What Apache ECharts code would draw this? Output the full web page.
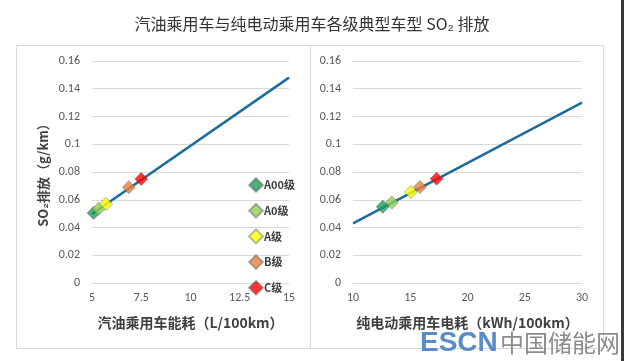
<!DOCTYPE html>
<html>
<head>
<meta charset="utf-8">
<script src="https://cdn.jsdelivr.net/npm/echarts@6/dist/echarts.min.js"></script>
<style>html,body{margin:0;padding:0;background:#fff;}#c{width:624px;height:361px;}</style>
</head>
<body>
<div id="c"></div>
<script>
// ---- data ----
var classes = ['A00级', 'A0级', 'A级', 'B级', 'C级'];
var classColors = ['#1ba05a', '#92cf55', '#ffff00', '#e3813e', '#ff0000'];
var gasFuel = [5.08, 5.34, 5.71, 6.87, 7.5];
var gasSO2 = [0.0505, 0.0535, 0.057, 0.069, 0.075];
var evPower = [12.6, 13.4, 15.05, 15.85, 17.3];
var evSO2 = [0.055, 0.058, 0.0656, 0.0692, 0.0752];
var gasFitX = [5, 15];
var gasFitY = [0.0497, 0.148];
var evFitX = [10, 30];
var evFitY = [0.043, 0.13];
var yTicks = [0, 0.02, 0.04, 0.06, 0.08, 0.1, 0.12, 0.14, 0.16];

var chart = echarts.init(document.getElementById('c'), null, {renderer: 'canvas'});
var labelColor = '#595959';
var gridColor = '#d9d9d9';
var font = 'Calibri, "Liberation Sans", "Noto Sans CJK SC", sans-serif';
var cjk = '"Noto Sans CJK SC", sans-serif';

function yAxis(idx, name) {
  return {
    type: 'value', gridIndex: idx, min: 0, max: 0.16, interval: 0.02,
    name: name, nameLocation: 'middle', nameGap: 42, nameRotate: 90,
    nameTextStyle: {color: '#404040', fontSize: 13, fontWeight: 'bold', fontFamily: cjk},
    axisLine: {show: false}, axisTick: {show: false},
    axisLabel: {color: labelColor, fontSize: 12, fontFamily: font, margin: 12,
      formatter: function (v) { return String(+v.toFixed(2)); }},
    splitLine: {lineStyle: {color: gridColor, width: 1}}
  };
}
function xAxis(idx, min, max, interval, name) {
  return {
    type: 'value', gridIndex: idx, min: min, max: max, interval: interval,
    name: name, nameLocation: 'middle', nameGap: 33,
    nameTextStyle: {color: '#404040', fontSize: 14, fontWeight: 'bold', fontFamily: cjk},
    axisLine: {show: false}, axisTick: {show: false},
    axisLabel: {color: labelColor, fontSize: 12, fontFamily: font, margin: 9,
      formatter: function (v) { return String(+v.toFixed(1)); }},
    splitLine: {show: false}
  };
}

var series = [];
series.push({type: 'line', xAxisIndex: 0, yAxisIndex: 0, symbol: 'none', silent: true,
  data: gasFitX.map(function (x, i) { return [x, gasFitY[i]]; }),
  lineStyle: {color: '#1d6c9c', width: 2.5}, z: 2});
series.push({type: 'line', xAxisIndex: 1, yAxisIndex: 1, symbol: 'none', silent: true,
  data: evFitX.map(function (x, i) { return [x, evFitY[i]]; }),
  lineStyle: {color: '#1d6c9c', width: 2.5}, z: 2});
classes.forEach(function (c, i) {
  var st = {color: classColors[i], borderColor: 'rgba(90,90,90,0.55)', borderWidth: 1};
  series.push({type: 'scatter', name: c, xAxisIndex: 0, yAxisIndex: 0, symbol: 'diamond', symbolSize: 13,
    data: [[gasFuel[i], gasSO2[i]]], itemStyle: st, z: 3});
  series.push({type: 'scatter', name: c, xAxisIndex: 1, yAxisIndex: 1, symbol: 'diamond', symbolSize: 13,
    data: [[evPower[i], evSO2[i]]], itemStyle: st, z: 3});
});

chart.setOption({
  animation: false,
  backgroundColor: '#ffffff',
  title: {text: '汽油乘用车与纯电动乘用车各级典型车型 SO₂ 排放', left: 'center', top: 11,
    textStyle: {fontSize: 16, fontWeight: 'normal', color: '#333333', fontFamily: cjk}},
  legend: {orient: 'vertical', left: 243, top: 172, itemGap: 9.7, itemWidth: 14, itemHeight: 14,
    icon: 'diamond', data: classes,
    textStyle: {fontSize: 11, fontWeight: 'bold', color: '#404040', fontFamily: cjk, padding: [0, 0, 0, -4]}},
  grid: [
    {left: 92, width: 197, top: 61, height: 222},
    {left: 353, width: 229, top: 61, height: 222}
  ],
  xAxis: [
    xAxis(0, 5, 15, 2.5, '汽油乘用车能耗（L/100km）'),
    xAxis(1, 10, 30, 5, '纯电动乘用车电耗（kWh/100km）')
  ],
  yAxis: [yAxis(0, 'SO₂排放（g/km）'), yAxis(1, '')],
  series: series,
  graphic: [
    {type: 'rect', shape: {x: 16.5, y: 45.5, width: 587, height: 303}, style: {fill: 'none', stroke: '#d9d9d9', lineWidth: 1}, silent: true, z: -1},
    {type: 'line', shape: {x1: 310.5, y1: 45.5, x2: 310.5, y2: 348.5}, style: {stroke: '#d9d9d9', lineWidth: 1}, silent: true, z: -1},
    {type: 'rect', shape: {x: 621, y: 0, width: 3, height: 361}, style: {fill: '#3a3a3a'}, silent: true},
    {type: 'text', left: 420, top: 329, style: {text: 'ESCN', fill: '#5b8cc8', font: 'bold 28px "Liberation Sans", Arial, sans-serif'}, silent: true},
    {type: 'text', left: 500, top: 331, style: {text: '中国储能网', fill: '#8c8c8c', font: '24px "Noto Sans CJK SC", sans-serif'}, silent: true}
  ]
});
</script>
</body>
</html>
